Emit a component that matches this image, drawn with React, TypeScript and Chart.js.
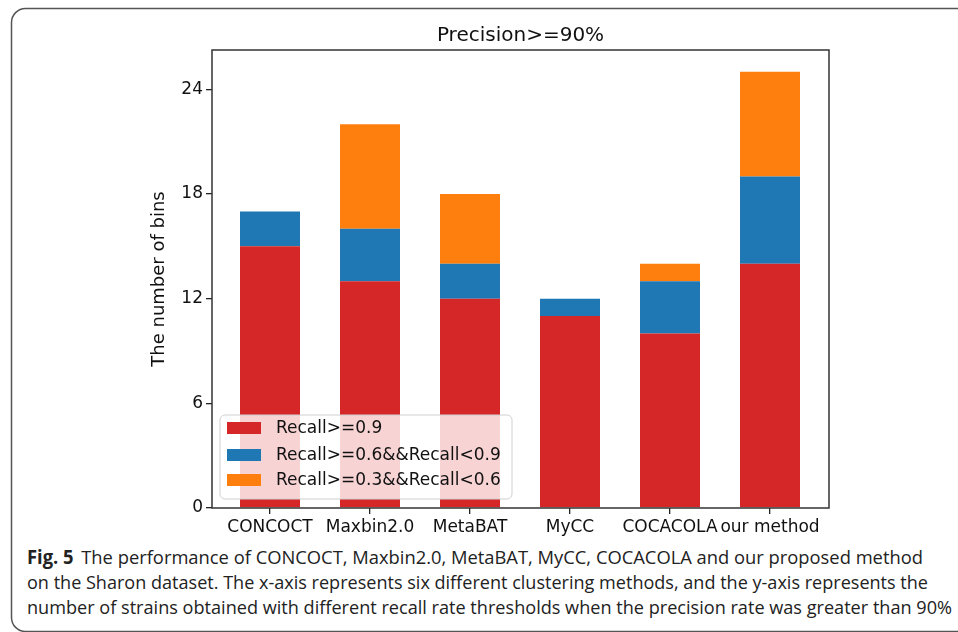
import React, { useEffect, useRef } from "react";
import { Chart, registerables } from "chart.js";

Chart.register(...registerables);

const categories = ["CONCOCT", "Maxbin2.0", "MetaBAT", "MyCC", "COCACOLA", "our method"];
const recallHigh = [15, 13, 12, 11, 10, 14];
const recallMid = [2, 3, 2, 1, 3, 5];
const recallLow = [0, 6, 4, 0, 1, 6];
const seriesLabels = ["Recall>=0.9", "Recall>=0.6&&Recall<0.9", "Recall>=0.3&&Recall<0.6"];
const seriesColors = ["#d62728", "#1f77b4", "#ff7f0e"];
const yTicks = [0, 6, 12, 18, 24];
const titleText = "Precision>=90%";
const yLabel = "The number of bins";
const captionBold = "Fig. 5";
const captionLines = [
  "The performance of CONCOCT, Maxbin2.0, MetaBAT, MyCC, COCACOLA and our proposed method",
  "on the Sharon dataset. The x-axis represents six different clustering methods, and the y-axis represents the",
  "number of strains obtained with different recall rate thresholds when the precision rate was greater than 90%",
];

const FONT = "'DejaVu Sans', sans-serif";

const decorPlugin = {
  id: "decor",
  afterDatasetsDraw(chart: any) {
    const ctx = chart.ctx;
    const area = chart.chartArea;
    ctx.save();
    // legend box
    const bx = 220, by = 415, bw = 292, bh = 84, r = 5;
    ctx.beginPath();
    ctx.moveTo(bx + r, by);
    ctx.arcTo(bx + bw, by, bx + bw, by + bh, r);
    ctx.arcTo(bx + bw, by + bh, bx, by + bh, r);
    ctx.arcTo(bx, by + bh, bx, by, r);
    ctx.arcTo(bx, by, bx + bw, by, r);
    ctx.closePath();
    ctx.fillStyle = "rgba(255,255,255,0.8)";
    ctx.fill();
    ctx.strokeStyle = "#d0d0d0";
    ctx.lineWidth = 1;
    ctx.stroke();
    const rows = [428, 455, 480];
    ctx.font = `17px ${FONT}`;
    ctx.textBaseline = "middle";
    ctx.textAlign = "left";
    for (let i = 0; i < 3; i++) {
      ctx.fillStyle = seriesColors[i];
      ctx.fillRect(227, rows[i] - 6, 34, 12);
      ctx.fillStyle = "#111";
      ctx.fillText(seriesLabels[i], 276, rows[i] + 1);
    }
    // title
    ctx.font = `20px ${FONT}`;
    ctx.textAlign = "center";
    ctx.textBaseline = "alphabetic";
    ctx.fillStyle = "#111";
    ctx.fillText(titleText, (area.left + area.right) / 2, 41);
    // y label
    ctx.save();
    ctx.translate(159, (area.top + area.bottom) / 2);
    ctx.rotate(-Math.PI / 2);
    ctx.font = `18px ${FONT}`;
    ctx.textBaseline = "middle";
    ctx.fillText(yLabel, 0, 0);
    ctx.restore();
    // frame
    ctx.strokeStyle = "#333";
    ctx.lineWidth = 1.5;
    ctx.strokeRect(area.left, area.top, area.right - area.left, area.bottom - area.top);
    ctx.restore();
  },
};

export default function App() {
  const ref = useRef<HTMLCanvasElement | null>(null);
  useEffect(() => {
    const canvas = ref.current;
    if (!canvas) return;
    const mk = (vals: number[]) => vals.map((v, i) => ({ x: i, y: v }));
    const chart = new Chart(canvas, {
      type: "bar",
      data: {
        datasets: [recallHigh, recallMid, recallLow].map((vals, k) => ({
          label: seriesLabels[k],
          data: mk(vals),
          backgroundColor: seriesColors[k],
          borderWidth: 0,
          barPercentage: 0.6,
          categoryPercentage: 1,
        })),
      } as any,
      options: {
        animation: false,
        responsive: false,
        maintainAspectRatio: false,
        layout: { padding: { left: 0, top: 50, right: 129, bottom: 0 } },
        plugins: {
          legend: { display: false },
          title: { display: false },
          tooltip: { enabled: false },
        },
        scales: {
          x: {
            type: "linear",
            stacked: true,
            offset: false,
            min: -0.58,
            max: 5.59,
            border: { display: false },
            grid: { offset: false, drawOnChartArea: false, drawTicks: true, tickLength: 6, color: "#222", lineWidth: 1.3 },
            ticks: {
              autoSkip: false,
              maxRotation: 0,
              padding: 3,
              color: "#111",
              font: { family: FONT, size: 17 },
              callback: (v: any) => categories[v as number] ?? "",
            },
            afterBuildTicks: (s: any) => {
              s.ticks = categories.map((_, i) => ({ value: i }));
            },
            afterFit: (s: any) => {
              s.height = 124;
            },
          },
          y: {
            stacked: true,
            min: 0,
            max: 26.25,
            border: { display: false },
            grid: { drawOnChartArea: false, drawTicks: true, tickLength: 6, color: "#222", lineWidth: 1.3 },
            ticks: {
              padding: 3,
              color: "#111",
              font: { family: FONT, size: 17 },
            },
            afterBuildTicks: (s: any) => {
              s.ticks = yTicks.map((v) => ({ value: v }));
            },
            afterFit: (s: any) => {
              s.width = 212;
            },
          },
        },
      } as any,
      plugins: [decorPlugin],
    });
    return () => chart.destroy();
  }, []);

  const capFont = "'Open Sans', 'Noto Sans', sans-serif";
  return (
    <div style={{ position: "absolute", left: 0, top: 0, width: 958, height: 632, background: "#fff", overflow: "hidden" }}>
      <svg width={958} height={632} style={{ position: "absolute", left: 0, top: 0 }}>
        <rect x={11.5} y={8.5} width={970} height={623} rx={14} ry={14} fill="none" stroke="#555" strokeWidth={1.5} />
        <text x={27} y={564} fontFamily={capFont} fontSize={19} fill="#222" textLength={896} lengthAdjust="spacingAndGlyphs">
          <tspan fontWeight="bold">{captionBold}</tspan>
          <tspan dx={8}>{captionLines[0]}</tspan>
        </text>
        <text x={27} y={589} fontFamily={capFont} fontSize={19} fill="#222" textLength={901} lengthAdjust="spacingAndGlyphs">
          {captionLines[1]}
        </text>
        <text x={27} y={614} fontFamily={capFont} fontSize={19} fill="#222" textLength={925} lengthAdjust="spacingAndGlyphs">
          {captionLines[2]}
        </text>
      </svg>
      <canvas ref={ref} width={958} height={632} style={{ position: "absolute", left: 0, top: 0, width: 958, height: 632 }} />
    </div>
  );
}
